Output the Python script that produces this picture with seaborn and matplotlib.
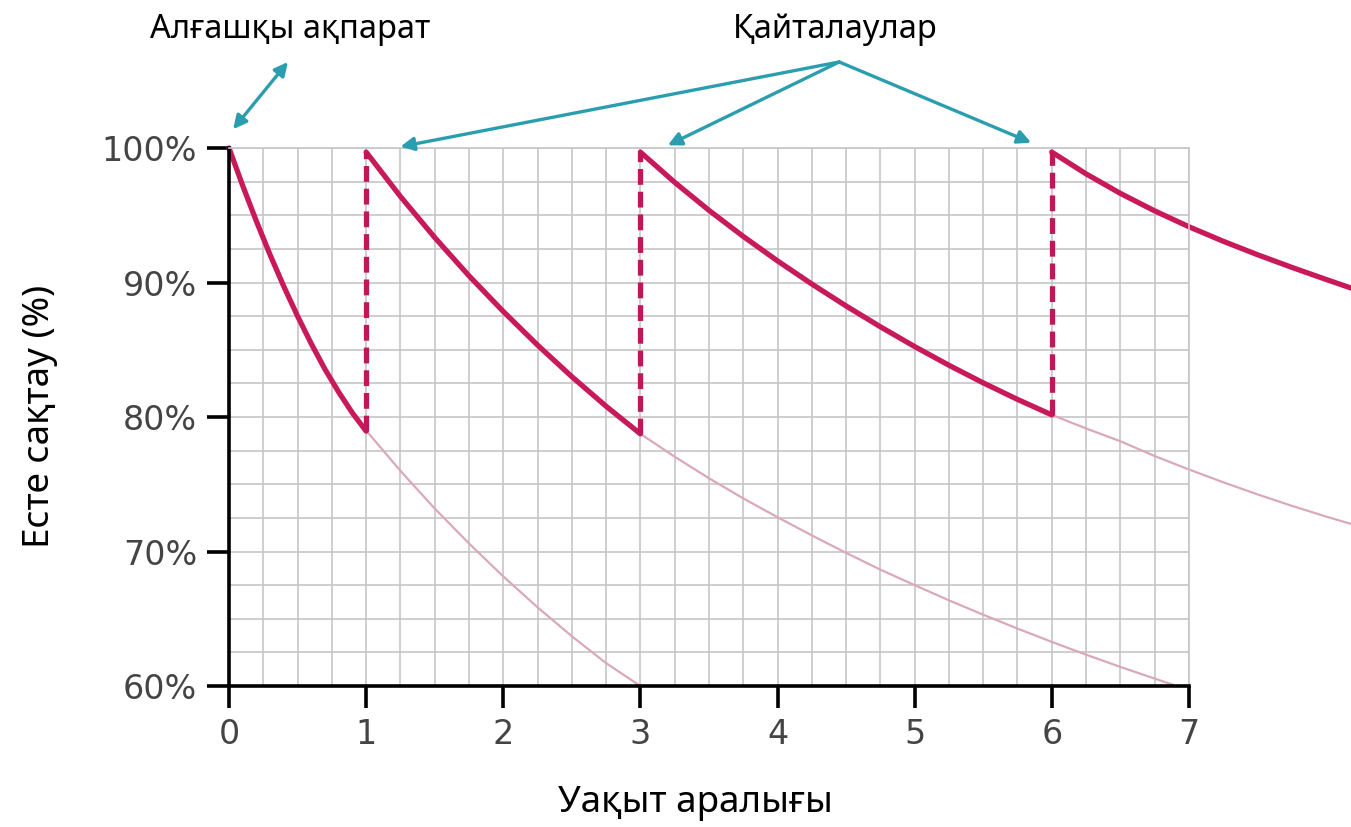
import pandas as pd
import matplotlib.pyplot as plt
import seaborn as sns
from matplotlib.ticker import MultipleLocator

# Forgetting curve: values
fresh_x = [0.0, 0.1, 0.2, 0.3, 0.4, 0.5, 0.6, 0.7, 0.8, 0.9, 1.0]
fresh_y = [100, 97.2, 94.55, 92.05, 89.7, 87.5, 85.45, 83.55, 81.85, 80.3, 78.95]

rep1_x = [1.0, 1.25, 1.5, 1.75, 2.0, 2.25, 2.5, 2.75, 3.0]
rep1_y = [99.7, 96.4, 93.35, 90.5, 87.85, 85.35, 83.0, 80.8, 78.75]

rep2_x = [3.0, 3.25, 3.5, 3.75, 4.0, 4.25, 4.5, 4.75, 5.0, 5.25, 5.5, 5.75, 6.0]
rep2_y = [99.7, 97.45, 95.37, 93.43, 91.61, 89.89, 88.26, 86.71, 85.24, 83.85, 82.54, 81.31, 80.16]

rep3_x = [6.0, 6.25, 6.5, 6.75, 7.0, 7.25, 7.5, 7.75, 8.0, 8.2]
rep3_y = [99.7, 98.08, 96.63, 95.33, 94.15, 93.07, 92.07, 91.13, 90.23, 89.53]

# faded continuations (without repetition)
fade1_x = [1.0, 1.25, 1.5, 1.75, 2.0, 2.25, 2.5, 2.75, 3.0]
fade1_y = [79.0, 76.0, 73.2, 70.6, 68.15, 65.85, 63.7, 61.7, 60.0]

fade2_x = [3.0, 3.25, 3.5, 3.75, 4.0, 4.25, 4.5, 4.75, 5.0, 5.25, 5.5, 5.75, 6.0, 6.25, 6.5, 6.91]
fade2_y = [78.75, 77.05, 75.45, 73.95, 72.55, 71.2, 69.9, 68.65, 67.5, 66.37, 65.3, 64.27, 63.28,
           62.33, 61.42, 60.0]

fade3_x = [6.0, 6.25, 6.5, 6.75, 7.0, 7.25, 7.5, 7.75, 8.0, 8.2]
fade3_y = [80.16, 79.15, 78.2, 77.1, 76.1, 75.15, 74.25, 73.4, 72.6, 72.0]

# repetition moments (dashed jumps)
review_x = [1, 3, 6]
review_low = [78.95, 78.75, 80.16]
review_top = [99.7, 99.7, 99.7]

x_ticks = [0, 1, 2, 3, 4, 5, 6, 7]
y_ticks = [60, 70, 80, 90, 100]
y_ticklabels = ['60%', '70%', '80%', '90%', '100%']

bold_color = '#c8195b'
pale_color = '#d9a9ba'
teal = '#2a9eae'
grid_color = '#c6c6c6'
label_font = ['Noto Sans', 'DejaVu Sans']


def segs(pairs, kind):
    rows = []
    for i, (xs, ys) in enumerate(pairs):
        for xv, yv in zip(xs, ys):
            rows.append({'x': xv, 'y': yv, 'seg': f'{kind}{i}', 'kind': kind})
    return rows


df = pd.DataFrame(
    segs([(fresh_x, fresh_y), (rep1_x, rep1_y), (rep2_x, rep2_y), (rep3_x, rep3_y)], 'bold')
    + segs([(fade1_x, fade1_y), (fade2_x, fade2_y), (fade3_x, fade3_y)], 'fade')
)

sns.set_style('white')
# tick numbers in a Verdana-like face, other texts get Noto Sans explicitly
plt.rcParams['font.family'] = ['DejaVu Sans']

fig = plt.figure(figsize=(13.51, 8.27), dpi=100)
ax = fig.add_axes([0.1695, 0.1705, 0.7105, 0.6505])

sns.lineplot(data=df[df['kind'] == 'fade'], x='x', y='y', units='seg', estimator=None,
             sort=False, color=pale_color, lw=1.6, clip_on=False, legend=False, ax=ax)
sns.lineplot(data=df[df['kind'] == 'bold'], x='x', y='y', units='seg', estimator=None,
             sort=False, color=bold_color, lw=3.8, clip_on=False, legend=False, ax=ax,
             solid_joinstyle='miter')

for xv, lo, hi in zip(review_x, review_low, review_top):
    ax.plot([xv, xv], [lo, hi], color='#be1858', lw=3.8, dashes=(3.0, 1.3), zorder=3)

ax.set_xlim(0, 7)
ax.set_ylim(60, 100)
ax.set(xlabel='', ylabel='')

ax.set_xticks(x_ticks)
ax.set_yticks(y_ticks)
ax.set_yticklabels(y_ticklabels)
ax.xaxis.set_minor_locator(MultipleLocator(0.25))
ax.yaxis.set_minor_locator(MultipleLocator(2.5))
ax.grid(which='both', color=grid_color, lw=1.2)
ax.set_axisbelow(True)
ax.tick_params(which='major', bottom=True, left=True, length=16, width=2.6, color='black',
               labelsize=24, labelcolor='#444444', pad=7)
ax.tick_params(which='minor', length=0)

for side in ['left', 'bottom']:
    ax.spines[side].set_color('black')
    ax.spines[side].set_linewidth(2.6)
for side in ['top', 'right']:
    ax.spines[side].set_color(grid_color)
    ax.spines[side].set_linewidth(1.2)

# annotations
ax.text(0.445, 108.8, 'Алғашқы ақпарат', ha='center', va='center', fontsize=23.5,
        color='black', family=label_font, clip_on=False)
ax.annotate('', xy=(0.03, 101.4), xytext=(0.43, 106.4), annotation_clip=False,
            arrowprops=dict(arrowstyle='<|-|>', color=teal, lw=2.4, mutation_scale=20,
                            shrinkA=0, shrinkB=0))

ax.text(4.42, 108.8, 'Қайталаулар', ha='center', va='center', fontsize=23.5,
        color='black', family=label_font, clip_on=False)
for tx, ty in [(1.25, 100.1), (3.2, 100.2), (5.85, 100.4)]:
    ax.annotate('', xy=(tx, ty), xytext=(4.45, 106.4), annotation_clip=False,
                arrowprops=dict(arrowstyle='-|>', color=teal, lw=2.4, mutation_scale=20,
                                shrinkA=0, shrinkB=0))

fig.text(40 / 1351, 1 - 416 / 827, 'Есте сақтау (%)', rotation=90, ha='center', va='center',
         fontsize=26.5, color='black', family=label_font)
fig.text(695 / 1351, 1 - 803 / 827, 'Уақыт аралығы', ha='center', va='center',
         fontsize=26.5, color='black', family=label_font)

fig.savefig('out.png', dpi=100)
